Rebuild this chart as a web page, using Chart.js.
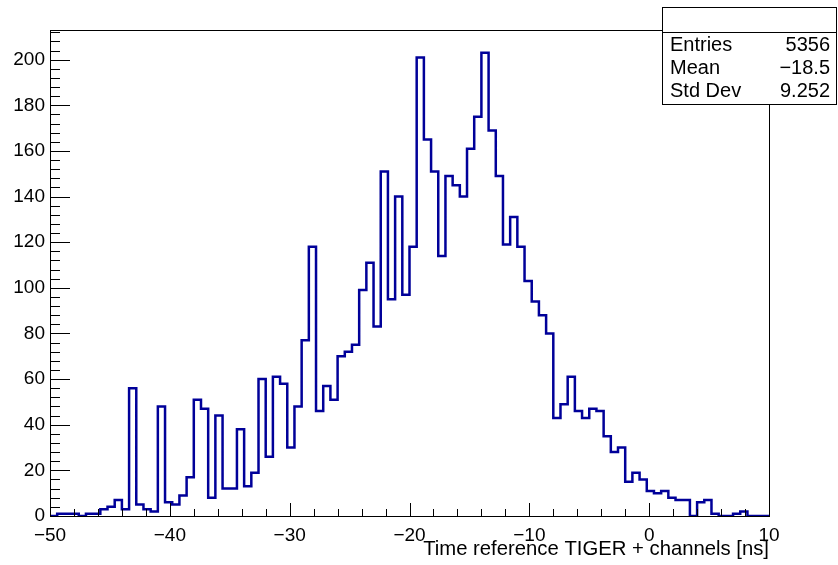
<!DOCTYPE html>
<html>
<head>
<meta charset="utf-8">
<script src="https://cdn.jsdelivr.net/npm/chart.js@4"></script>
<style>
  body { margin: 0; background: #fff; }
</style>
</head>
<body>
<canvas id="c" width="838" height="565"></canvas>
<script>
// histogram binning (100 bins of 0.6 ns)
const xMin = -50;
const xMax = 10;
const nBins = 100;
// counts per bin
const counts = [
  0, 1, 1, 1, 0, 1, 1, 3, 4, 7,
  3, 56, 5, 3, 2, 48, 6, 5, 9, 17,
  51, 47, 8, 44, 12, 12, 38, 13, 19, 60,
  26, 61, 58, 30, 48, 77, 118, 46, 57, 51,
  70, 72, 75, 99, 111, 83, 151, 95, 140, 97,
  118, 201, 165, 151, 114, 149, 145, 140, 161, 175,
  203, 169, 149, 119, 131, 118, 103, 94, 88, 80,
  43, 49, 61, 46, 43, 47, 46, 35, 28, 30,
  15, 19, 16, 11, 10, 11, 8, 7, 7, 0,
  6, 7, 1, 0, 0, 1, 2, 0, 0, 0
];
const yMax = 213;
const statLabels = ["Entries", "Mean", "Std Dev"];
const statValues = ["5356", "\u221218.5", "9.252"];
const xTitle = "Time reference TIGER + channels [ns]";

const FONT = "'Liberation Sans', Arial, Helvetica, sans-serif";
const binWidth = (xMax - xMin) / nBins;

// step outline points: left edge of each bin, then closing right edge
const points = [{ x: xMin, y: 0 }];
counts.forEach((c, i) => {
  points.push({ x: xMin + i * binWidth, y: c });
});
points.push({ x: xMax, y: counts[counts.length - 1] });
points.push({ x: xMax, y: 0 });

function fmt(v) {
  return v < 0 ? "\u2212" + Math.abs(v) : String(v);
}

// ROOT style frame with ticks inside + stats box
const rootFrame = {
  id: "rootFrame",
  afterDraw(chart) {
    const ctx = chart.ctx;
    const a = chart.chartArea;
    const xs = chart.scales.x;
    const ys = chart.scales.y;
    ctx.save();
    ctx.strokeStyle = "#000";
    ctx.lineWidth = 1;
    ctx.strokeRect(a.left + 0.5, a.top + 0.5, a.right - a.left, a.bottom - a.top);

    ctx.beginPath();
    for (let v = xMin; v <= xMax + 1e-9; v += 2) {
      const px = Math.round(xs.getPixelForValue(v)) + 0.5;
      const len = Math.abs(v % 10) < 1e-9 ? 13 : 7;
      ctx.moveTo(px, a.bottom);
      ctx.lineTo(px, a.bottom - len);
    }
    for (let v = 0; v <= yMax; v += 4) {
      const py = Math.round(ys.getPixelForValue(v)) + 0.5;
      const len = v % 20 === 0 ? 20 : 10;
      ctx.moveTo(a.left, py);
      ctx.lineTo(a.left + len, py);
    }
    ctx.stroke();

    // stats box
    const bx = 662, by = 7, bw = 174, bh = 97;
    ctx.fillStyle = "#fff";
    ctx.fillRect(bx, by, bw, bh);
    ctx.strokeRect(bx + 0.5, by + 0.5, bw, bh);
    ctx.beginPath();
    ctx.moveTo(bx, by + 25.5);
    ctx.lineTo(bx + bw, by + 25.5);
    ctx.stroke();
    ctx.fillStyle = "#000";
    ctx.font = "20px " + FONT;
    ctx.textBaseline = "middle";
    statLabels.forEach((lab, i) => {
      const ty = 45 + i * 23;
      ctx.textAlign = "left";
      ctx.fillText(lab, 670, ty);
      ctx.textAlign = "right";
      ctx.fillText(statValues[i], 830, ty);
    });
    ctx.restore();
  }
};

new Chart(document.getElementById("c"), {
  type: "line",
  data: {
    datasets: [{
      data: points,
      stepped: true,
      borderColor: "#000099",
      borderWidth: 2.5,
      pointRadius: 0,
      fill: false,
      tension: 0
    }]
  },
  options: {
    responsive: false,
    animation: false,
    layout: { padding: { top: 30, right: 69, left: 0, bottom: 0 } },
    plugins: { legend: { display: false }, tooltip: { enabled: false } },
    scales: {
      x: {
        type: "linear",
        min: xMin,
        max: xMax,
        afterFit(scale) { scale.height = 49; },
        grid: { display: false, drawTicks: false },
        border: { display: false },
        ticks: {
          stepSize: 10,
          padding: 8,
          maxRotation: 0,
          color: "#000",
          font: { family: FONT, size: 19 },
          callback: (v) => fmt(v)
        },
        title: {
          display: true,
          text: xTitle,
          align: "end",
          color: "#000",
          font: { family: FONT, size: 20.3 },
          padding: { top: 0, bottom: 3 }
        }
      },
      y: {
        min: 0,
        max: yMax,
        afterFit(scale) { scale.width = 50; },
        grid: { display: false, drawTicks: false },
        border: { display: false },
        ticks: {
          stepSize: 20,
          includeBounds: false,
          padding: 5,
          color: "#000",
          font: { family: FONT, size: 19 }
        }
      }
    }
  },
  plugins: [rootFrame]
});
</script>
</body>
</html>
